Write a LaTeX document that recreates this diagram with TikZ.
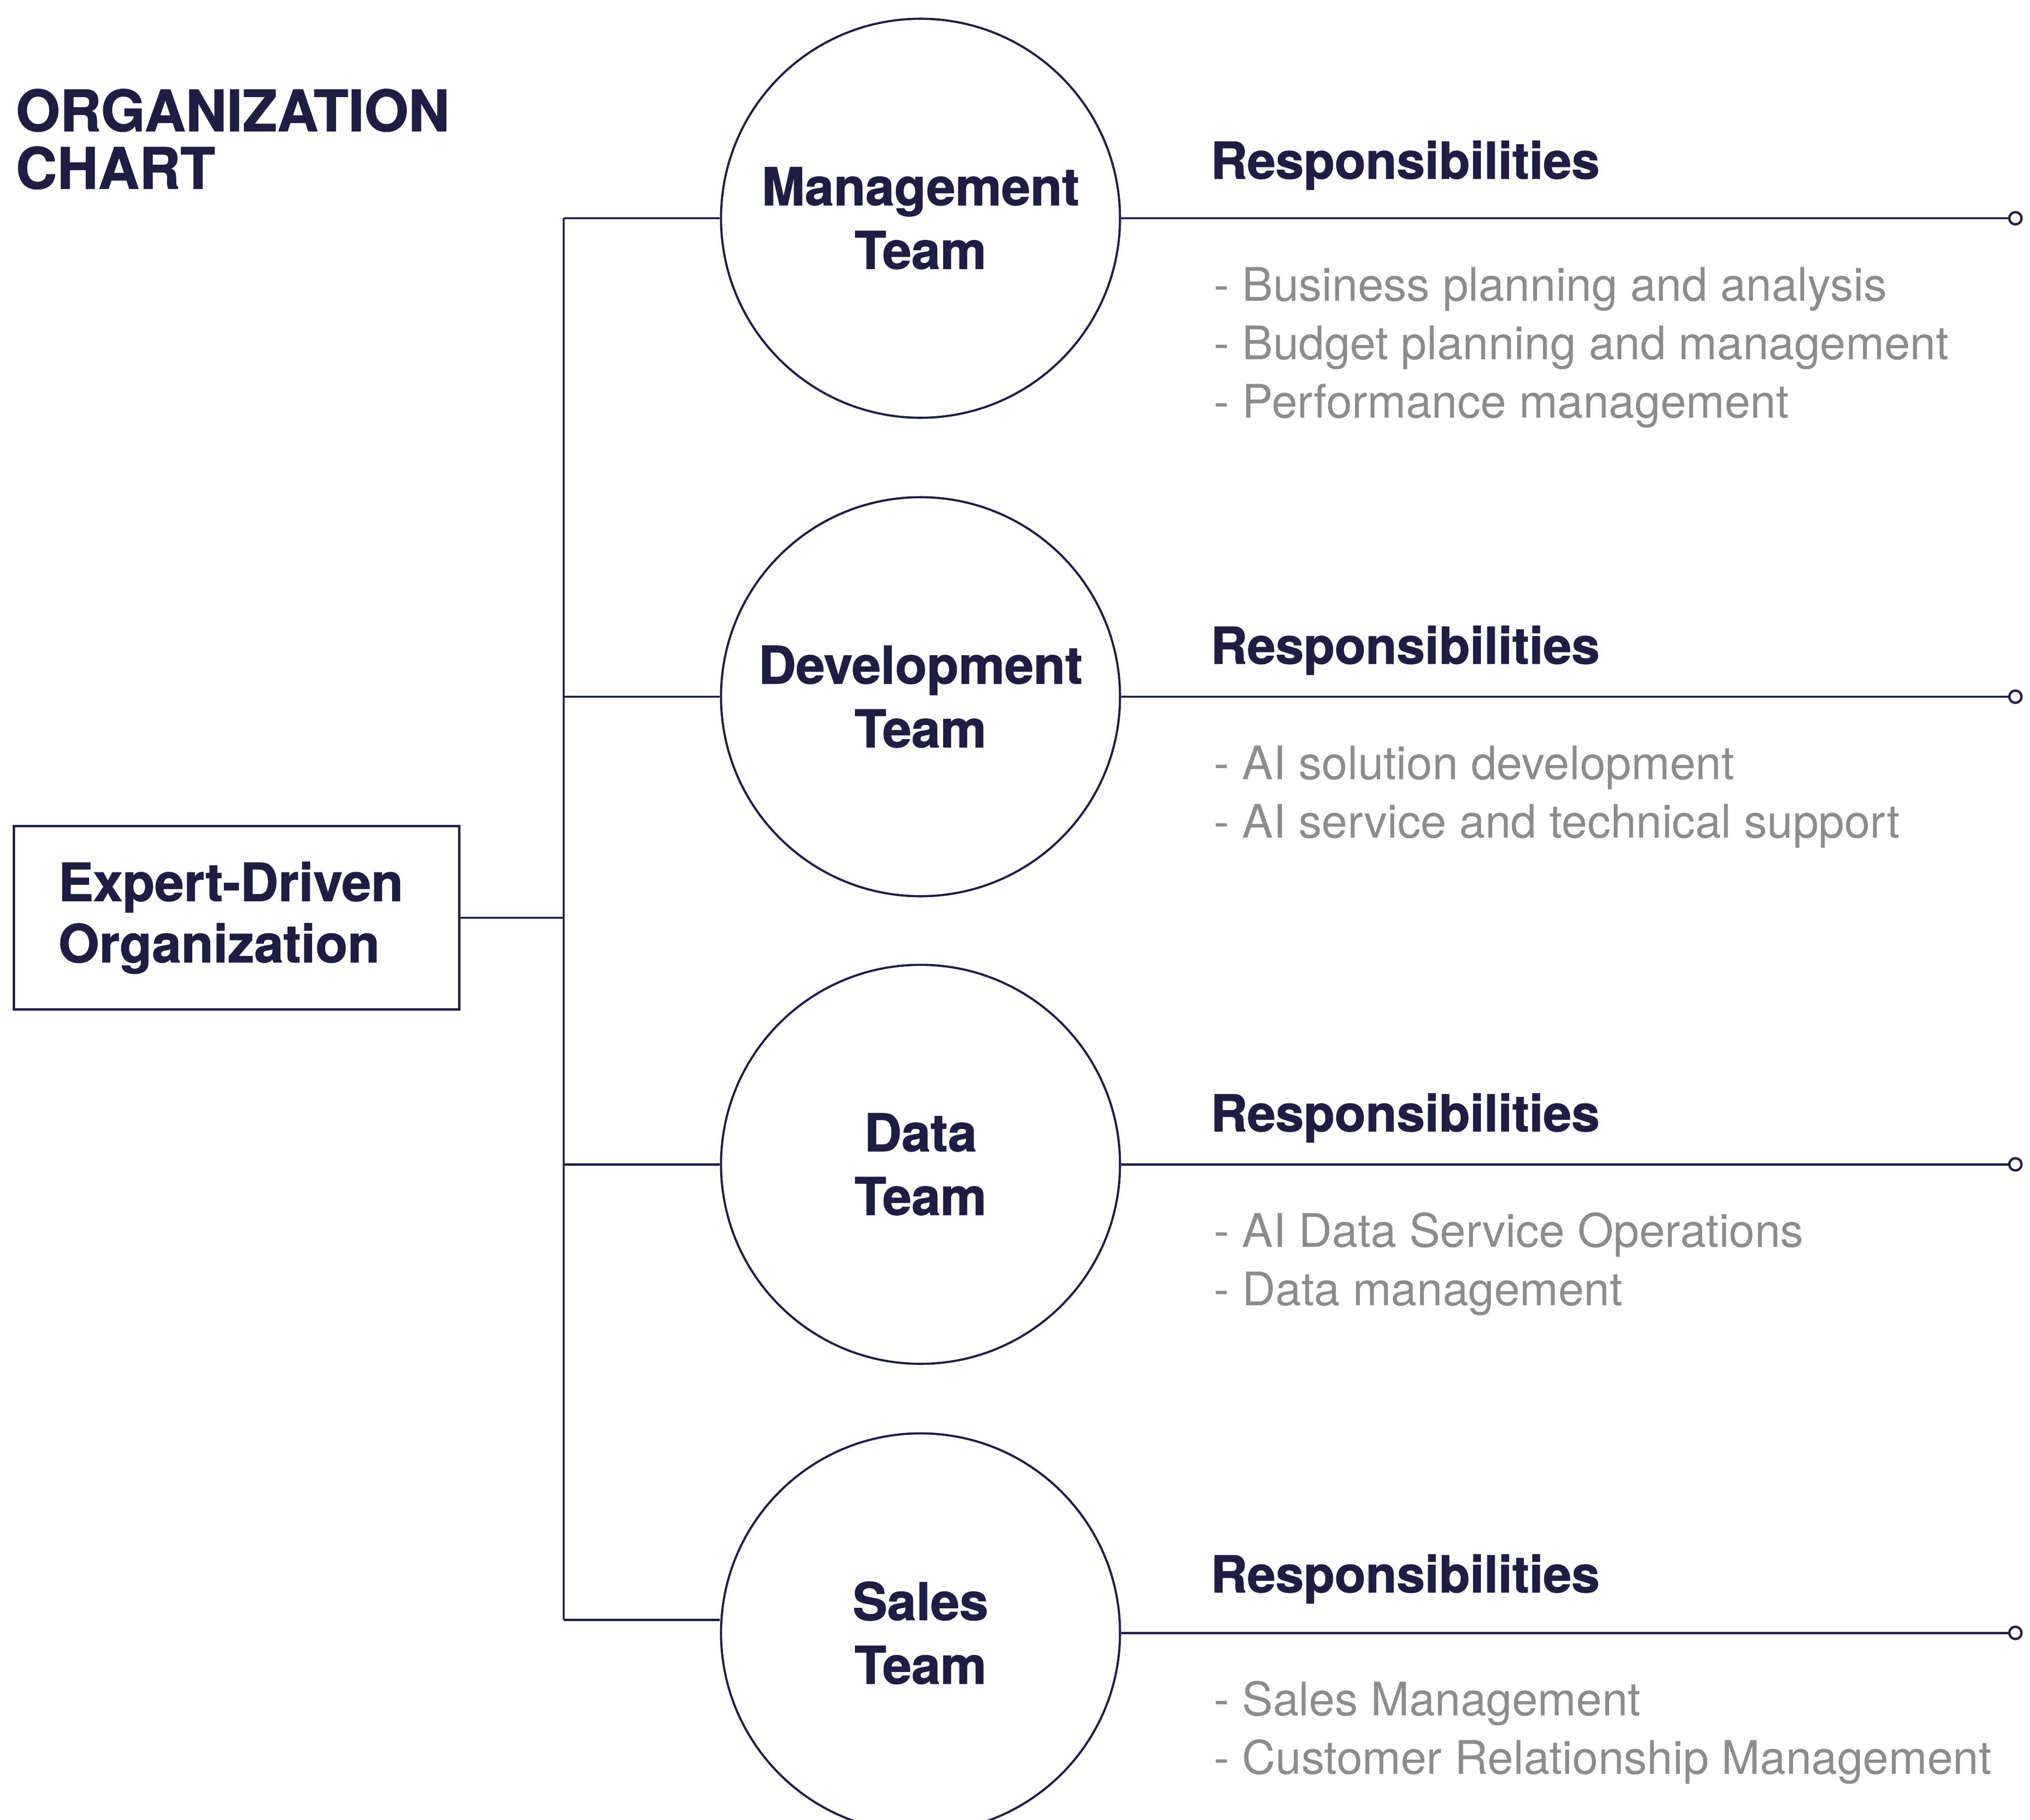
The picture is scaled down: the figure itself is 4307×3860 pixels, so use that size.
\documentclass[tikz,border=0pt]{standalone}
\usepackage{fontspec}
\setmainfont{TeX Gyre Heros}[BoldFeatures={FakeBold=1.2}]
\definecolor{navy}{HTML}{1F1E42}
\definecolor{dutygray}{HTML}{8C8C8C}
\tikzset{
link/.style=
    {draw=navy,
    line width=1.4pt
    },
team/.style=
    {circle,
    draw=navy,
    line width=1.3pt,
    minimum size=8.46cm,
    inner sep=0pt,
    align=center,
    text=navy,
    font={\fontsize{31.3}{38.4}\selectfont\bfseries}
    },
endpt/.style=
    {circle,
    draw=navy,
    fill=white,
    line width=1.4pt,
    minimum size=0.26cm,
    inner sep=0pt
    },
orgbox/.style=
    {rectangle,
    draw=navy,
    line width=1.4pt,
    minimum width=9.44cm,
    minimum height=3.89cm,
    text width=7.56cm,
    inner xsep=0.94cm,
    inner ysep=0pt,
    align=left,
    text=navy,
    font={\fontsize{31.7}{37}\selectfont\bfseries}
    },
heading/.style=
    {anchor=base west,
    inner sep=0pt,
    text=navy,
    font={\fontsize{30.6}{36}\selectfont\bfseries}
    },
duty/.style=
    {anchor=base west,
    inner sep=0pt,
    text=dutygray,
    font={\fontsize{27.9}{34}\selectfont}
    }}

\begin{document}
\begin{tikzpicture}[x=0.01cm,y=-0.01cm]
\useasboundingbox (0,0) rectangle (4307,3860);

\node[anchor=north west,inner sep=0pt,align=left,text=navy,
      font={\fontsize{34.3}{34.7}\selectfont\bfseries}] (title) at (33,188) {ORGANIZATION\\CHART};

\node[orgbox] (org) at (502,1947) {Expert-Driven\\Organization};

\coordinate (bustop) at (1196,463);
\coordinate (busbot) at (1196,3436);
\draw[link] (bustop) -- (busbot);
\draw[link] (org.east) -- (org.east -| bustop);

\foreach \name/\ypos/\label/\hy in {mgmt/463/Management\\Team/379,
                                     dev/1478/Development\\Team/1408,
                                     data/2470/Data\\Team/2400,
                                     sales/3464/Sales\\Team/3378}{
  \node[team] (\name) at (1953,\ypos) {\label};
  \node[endpt] (\name end) at (4276,\ypos) {};
  \draw[link] (\name.east) -- (\name end.west);
  \node[heading] (\name head) at (2568,\hy) {Responsibilities};
}

\draw[link] (bustop) -- (mgmt.west);
\draw[link] (bustop |- dev.west) -- (dev.west);
\draw[link] (bustop |- data.west) -- (data.west);
\draw[link] (busbot) -- (busbot -| sales.west);

\foreach \ypos/\txt [count=\i] in {638/- Business planning and analysis,
                                   762/- Budget planning and management,
                                   886/- Performance management,
                                   1653/- AI solution development,
                                   1777/- AI service and technical support,
                                   2645/- AI Data Service Operations,
                                   2769/- Data management,
                                   3639/- Sales Management,
                                   3763/- Customer Relationship Management}{
  \node[duty] (duty\i) at (2575,\ypos) {\txt};
}

\end{tikzpicture}
\end{document}
